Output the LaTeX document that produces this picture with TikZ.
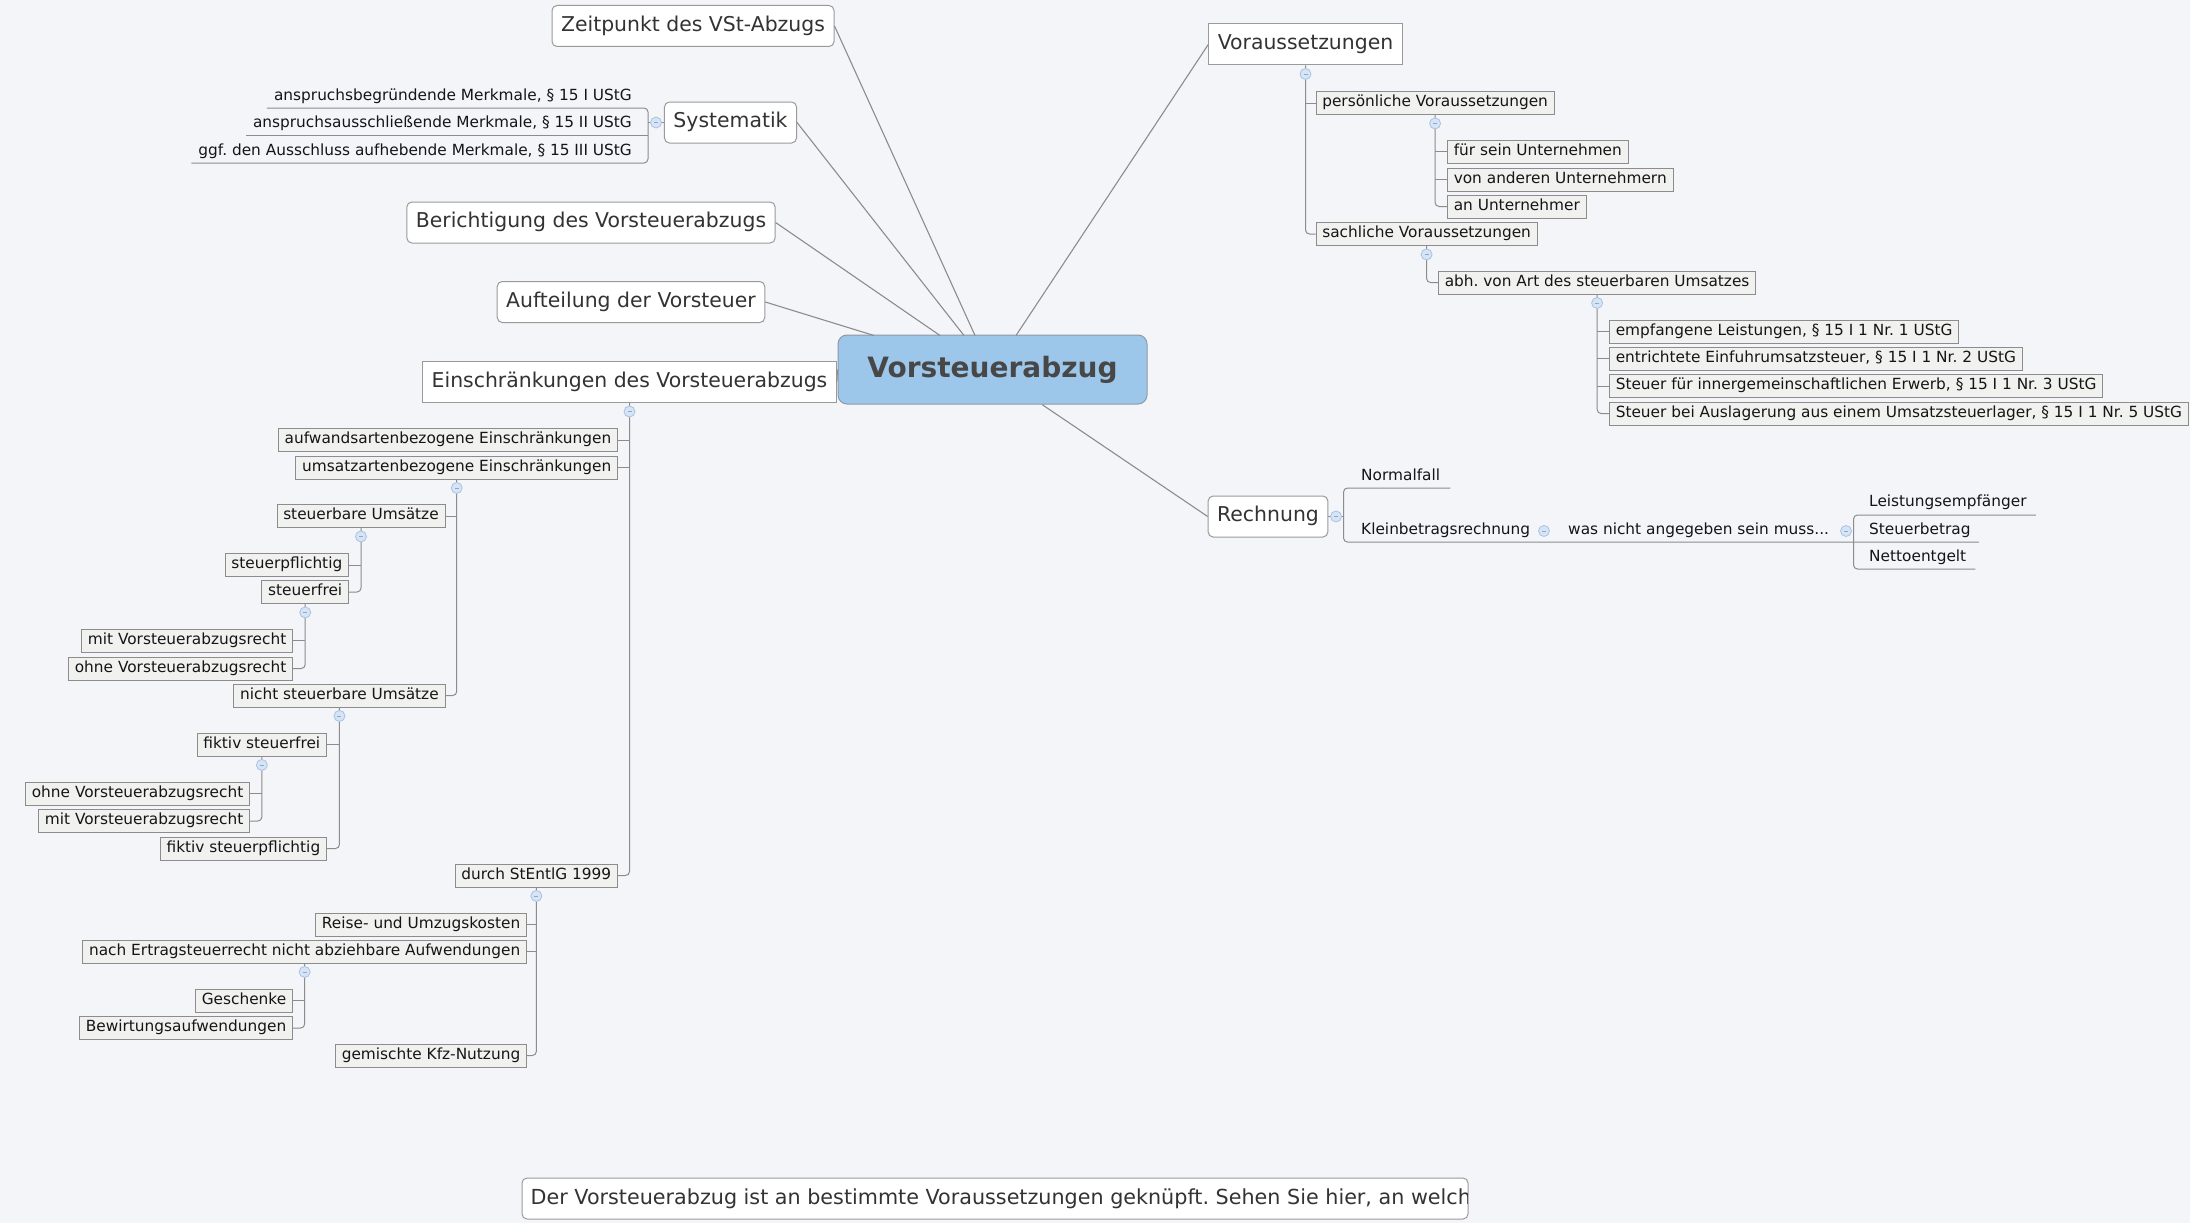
\documentclass[tikz,border=0pt]{standalone}
\usepackage{fontspec}
\setmainfont{DejaVu Sans}
\usetikzlibrary{calc}
\frenchspacing
\definecolor{bgc}{HTML}{F3F5F9}
\definecolor{cfill}{HTML}{9CC7EA}
\definecolor{cbd}{HTML}{8E9AA6}
\definecolor{ctx}{HTML}{474747}
\definecolor{topbd}{HTML}{9A9A9A}
\definecolor{toptx}{HTML}{333333}
\definecolor{subbd}{HTML}{8C8C8C}
\definecolor{subfill}{HTML}{F1F2F0}
\definecolor{subtx}{HTML}{151515}
\definecolor{linec}{HTML}{8C8C8C}
\definecolor{markfill}{HTML}{D6E4F5}
\definecolor{markbd}{HTML}{A8C2E4}
\definecolor{markdash}{HTML}{8EA8CC}
\tikzset{
  topic/.style={draw=topbd, fill=white, text=toptx, font=\fontsize{20.4}{24}\selectfont,
    inner xsep=9pt, inner ysep=0pt, text height=15pt, text depth=4.5pt,
    minimum height=41pt, rounded corners=5pt, line width=1pt},
  topicsq/.style={topic, sharp corners},
  central/.style={draw=cbd, fill=cfill, text=ctx, font=\fontsize{28}{32}\selectfont\bfseries,
    minimum width=309pt, minimum height=69pt, rounded corners=9pt, line width=1pt},
  subbox/.style={draw=subbd, fill=subfill, text=subtx, font=\fontsize{15.35}{18}\selectfont,
    inner xsep=6.3pt, inner ysep=0pt, text height=11.3pt, text depth=3.4pt,
    minimum height=23pt, line width=0.9pt},
  lbl/.style={text=subtx, font=\fontsize{15.35}{18}\selectfont, inner sep=0pt},
  conn/.style={draw=linec, line width=1pt},
  mainconn/.style={draw=linec, line width=1.1pt},
  fold/.style={circle, draw=markbd, fill=markfill, minimum size=11pt, inner sep=0pt, line width=0.8pt,
    path picture={\draw[markdash, line width=0.8pt] ([xshift=-2pt]path picture bounding box.center) -- ([xshift=2pt]path picture bounding box.center);}}
}
\begin{document}
\begin{tikzpicture}[x=1pt,y=-1pt]
\fill[bgc] (0,0) rectangle (2190,1223);
\useasboundingbox (0,0) rectangle (2190,1223);

% ---------- main topics ----------
\node[central] (C) at (992.5,369.5) {Vorsteuerabzug};
\node[topic, minimum width=282pt] (Zeit) at (693,26) {Zeitpunkt des VSt-Abzugs};
\node[topic, minimum width=131pt] (Sys) at (730.5,122.5) {Systematik};
\node[topic, minimum width=366pt] (Ber) at (591,222.5) {Berichtigung des Vorsteuerabzugs};
\node[topic, minimum width=266pt] (Auf) at (631,302) {Aufteilung der Vorsteuer};
\node[topicsq, minimum width=411pt] (Ein) at (629.5,382) {Einschränkungen des Vorsteuerabzugs};
\node[topicsq, minimum width=193pt] (Vor) at (1305.5,44.5) {Voraussetzungen};
\node[topic, minimum width=118pt] (Rech) at (1268,516.5) {Rechnung};

\coordinate (cB) at (940,335.5);
\coordinate (cS) at (964,335.5);
\coordinate (cZ) at (975,335.5);
\coordinate (cV) at (1016,335.5);
\coordinate (cA) at (874,335.5);
\coordinate (cR) at (1042,404.5);
\draw[mainconn] (Zeit.east) -- (cZ);
\draw[mainconn] (Sys.east) -- (cS);
\draw[mainconn] (Ber.east) -- (cB);
\draw[mainconn] (Auf.east) -- (cA);
\draw[mainconn] (Ein.east) -- (C.west);
\draw[mainconn] (Vor.west) -- (cV);
\draw[mainconn] (cR) -- (Rech.west);

% ---------- Systematik ----------
\node[lbl, anchor=base east] (s1) at (632,100) {anspruchsbegründende Merkmale, § 15 I UStG};
\node[lbl, anchor=base east] (s2) at (632,127) {anspruchsausschließende Merkmale, § 15 II UStG};
\node[lbl, anchor=base east] (s3) at (632,155) {ggf. den Ausschluss aufhebende Merkmale, § 15 III UStG};
\coordinate (sysbr) at (648,135);
\draw[conn, rounded corners=4pt] ($(s1.base west)+(-7,8)$) -| (sysbr) |- ($(s3.base west)+(-7,8)$);
\draw[conn] ($(s2.base west)+(-7,8)$) -- (sysbr);
\draw[conn] (sysbr |- Sys.west) -- (Sys.west);
\node[fold] (fSys) at (656,122.5) {};

% ---------- Voraussetzungen ----------
\node[subbox, anchor=west] (pers) at (1315.5,103) {persönliche Voraussetzungen};
\node[subbox, anchor=west] (fuer) at (1447,151.5) {für sein Unternehmen};
\node[subbox, anchor=west] (von) at (1447,179.5) {von anderen Unternehmern};
\node[subbox, anchor=west] (an) at (1447,206.5) {an Unternehmer};
\node[subbox, anchor=west] (sach) at (1315.5,234) {sachliche Voraussetzungen};
\node[subbox, anchor=west] (abh) at (1438,282.5) {abh. von Art des steuerbaren Umsatzes};
\node[subbox, anchor=west] (emp) at (1609,331.5) {empfangene Leistungen, § 15 I 1 Nr. 1 UStG};
\node[subbox, anchor=west] (ent) at (1609,358.5) {entrichtete Einfuhrumsatzsteuer, § 15 I 1 Nr. 2 UStG};
\node[subbox, anchor=west] (stf) at (1609,386) {Steuer für innergemeinschaftlichen Erwerb, § 15 I 1 Nr. 3 UStG};
\node[subbox, anchor=west] (stb5) at (1609,413.5) {Steuer bei Auslagerung aus einem Umsatzsteuerlager, § 15 I 1 Nr. 5 UStG};

\draw[conn, rounded corners=4pt] (Vor.south) |- (sach.west);
\draw[conn] (Vor.south |- pers.west) -- (pers.west);
\draw[conn, rounded corners=4pt] (pers.south) |- (an.west);
\draw[conn] (pers.south |- fuer.west) -- (fuer.west);
\draw[conn] (pers.south |- von.west) -- (von.west);
\draw[conn, rounded corners=4pt] (sach.south) |- (abh.west);
\draw[conn, rounded corners=4pt] (abh.south) |- (stb5.west);
\draw[conn] (abh.south |- emp.west) -- (emp.west);
\draw[conn] (abh.south |- ent.west) -- (ent.west);
\draw[conn] (abh.south |- stf.west) -- (stf.west);
\node[fold] (fVor) at ([yshift=-8.5pt]Vor.south) {};
\node[fold] (fPers) at ([yshift=-8.5pt]pers.south) {};
\node[fold] (fSach) at ([yshift=-8.5pt]sach.south) {};
\node[fold] (fAbh) at ([yshift=-8.5pt]abh.south) {};

% ---------- Rechnung ----------
\node[lbl, anchor=base west] (nf) at (1361,480) {Normalfall};
\node[lbl, anchor=base west] (kb) at (1361,534) {Kleinbetragsrechnung};
\node[lbl, anchor=base west] (wn) at (1568,534) {was nicht angegeben sein muss...};
\node[lbl, anchor=base west] (le) at (1869,506) {Leistungsempfänger};
\node[lbl, anchor=base west] (sbt) at (1869,534) {Steuerbetrag};
\node[lbl, anchor=base west] (ne) at (1869,561) {Nettoentgelt};
\coordinate (rbr) at (1343.5,516.5);
\draw[conn, rounded corners=4pt] ($(nf.base east)+(10,8)$) -| (rbr) |- ($(sbt.base east)+(8,8)$);
\draw[conn] (Rech.east) -- (rbr);
\coordinate (wbr) at (1853.5,542);
\draw[conn, rounded corners=4pt] ($(le.base east)+(9,9)$) -| (wbr) |- ($(ne.base east)+(9,8)$);
\node[fold] (fRech) at (1336,516.5) {};
\node[fold] (fKb) at (1544,531) {};
\node[fold] (fWn) at (1846,531) {};

% ---------- Einschränkungen ----------
\node[subbox, anchor=east] (aufw) at (618,440) {aufwandsartenbezogene Einschränkungen};
\node[subbox, anchor=east] (ums) at (618,467.5) {umsatzartenbezogene Einschränkungen};
\node[subbox, anchor=east] (stbU) at (445.5,516) {steuerbare Umsätze};
\node[subbox, anchor=east] (pfl) at (349,565) {steuerpflichtig};
\node[subbox, anchor=east] (frei) at (349,592) {steuerfrei};
\node[subbox, anchor=east] (mit1) at (293,640.5) {mit Vorsteuerabzugsrecht};
\node[subbox, anchor=east] (ohne1) at (293,668.5) {ohne Vorsteuerabzugsrecht};
\node[subbox, anchor=east] (nicht) at (445.5,695.5) {nicht steuerbare Umsätze};
\node[subbox, anchor=east] (ffrei) at (327,744.5) {fiktiv steuerfrei};
\node[subbox, anchor=east] (ohne2) at (250,793.5) {ohne Vorsteuerabzugsrecht};
\node[subbox, anchor=east] (mit2) at (250,821) {mit Vorsteuerabzugsrecht};
\node[subbox, anchor=east] (fpfl) at (327,848.5) {fiktiv steuerpflichtig};
\node[subbox, anchor=east] (durch) at (618,875.5) {durch StEntlG 1999};
\node[subbox, anchor=east] (reise) at (527,924.5) {Reise- und Umzugskosten};
\node[subbox, anchor=east] (nach) at (527,951.5) {nach Ertragsteuerrecht nicht abziehbare Aufwendungen};
\node[subbox, anchor=east] (gesch) at (293,1000.5) {Geschenke};
\node[subbox, anchor=east] (bew) at (293,1028) {Bewirtungsaufwendungen};
\node[subbox, anchor=east] (kfz) at (527,1055.5) {gemischte Kfz-Nutzung};

\draw[conn, rounded corners=4pt] (Ein.south) |- (durch.east);
\draw[conn] (Ein.south |- aufw.east) -- (aufw.east);
\draw[conn] (Ein.south |- ums.east) -- (ums.east);
\draw[conn, rounded corners=4pt] (ums.south) |- (nicht.east);
\draw[conn] (ums.south |- stbU.east) -- (stbU.east);
\draw[conn, rounded corners=4pt] (stbU.south) |- (frei.east);
\draw[conn] (stbU.south |- pfl.east) -- (pfl.east);
\draw[conn, rounded corners=4pt] (frei.south) |- (ohne1.east);
\draw[conn] (frei.south |- mit1.east) -- (mit1.east);
\draw[conn, rounded corners=4pt] (nicht.south) |- (fpfl.east);
\draw[conn] (nicht.south |- ffrei.east) -- (ffrei.east);
\draw[conn, rounded corners=4pt] (ffrei.south) |- (mit2.east);
\draw[conn] (ffrei.south |- ohne2.east) -- (ohne2.east);
\draw[conn, rounded corners=4pt] (durch.south) |- (kfz.east);
\draw[conn] (durch.south |- reise.east) -- (reise.east);
\draw[conn] (durch.south |- nach.east) -- (nach.east);
\draw[conn, rounded corners=4pt] (nach.south) |- (bew.east);
\draw[conn] (nach.south |- gesch.east) -- (gesch.east);
\node[fold] (fEin) at ([yshift=-8.5pt]Ein.south) {};
\node[fold] (fUms) at ([yshift=-8.5pt]ums.south) {};
\node[fold] (fStb) at ([yshift=-8.5pt]stbU.south) {};
\node[fold] (fFrei) at ([yshift=-8.5pt]frei.south) {};
\node[fold] (fNicht) at ([yshift=-8.5pt]nicht.south) {};
\node[fold] (fFfrei) at ([yshift=-8.5pt]ffrei.south) {};
\node[fold] (fDurch) at ([yshift=-8.5pt]durch.south) {};
\node[fold] (fNach) at ([yshift=-8.5pt]nach.south) {};

% ---------- caption ----------
\node[topic, minimum width=946pt] (cap) at (995,1198.5) {};
\begin{scope}
  \clip ([xshift=1.5pt]cap.south west) rectangle ([xshift=-1pt]cap.north east);
  \node[anchor=west, text=toptx, font=\fontsize{20.7}{24}\selectfont, inner sep=0pt] (captxt) at ([xshift=9pt]cap.west) {Der Vorsteuerabzug ist an bestimmte Voraussetzungen geknüpft. Sehen Sie hier, an welche};
\end{scope}
\end{tikzpicture}
\end{document}
